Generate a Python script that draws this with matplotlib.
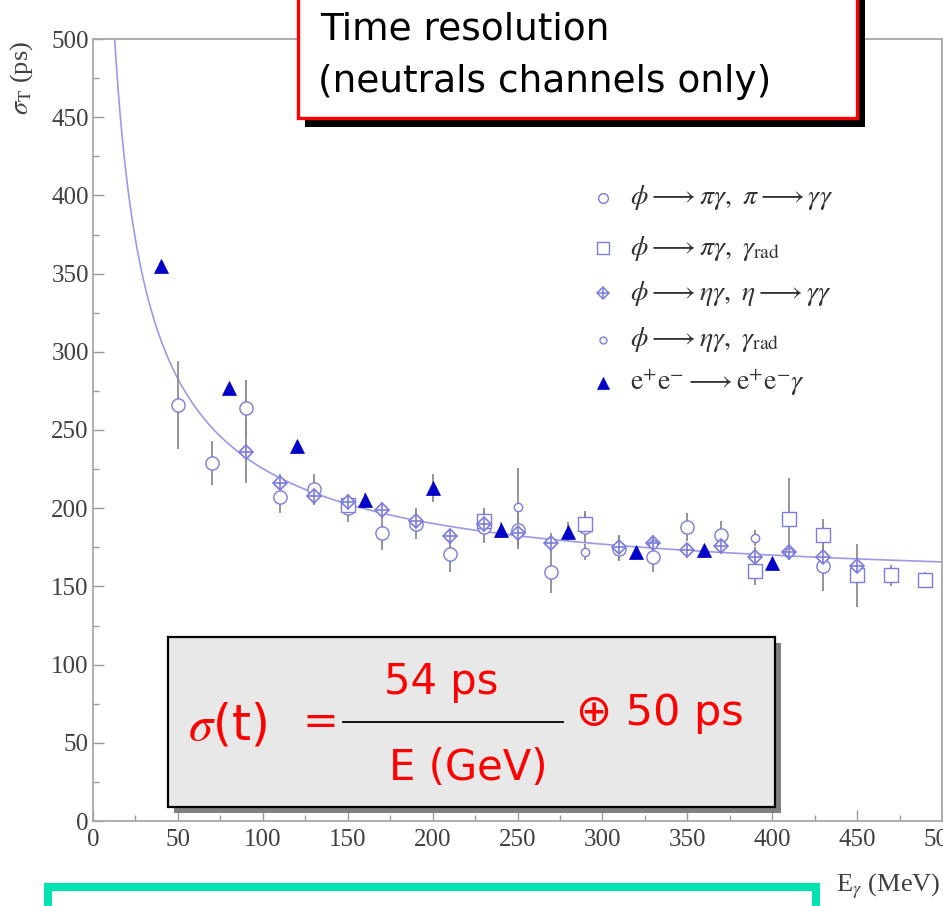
import matplotlib
matplotlib.use("Agg")
import numpy as np
import matplotlib.pyplot as plt
from matplotlib.patches import Rectangle
from matplotlib.lines import Line2D

W, H = 943, 906

plt.rcParams["mathtext.fontset"] = "stix"

# --- sigma_T (ps) vs E_gamma (MeV), one block per channel ---
pi_gg_E = [50, 70, 90, 110, 130, 150, 170, 190, 210, 230, 250, 270, 290, 310, 330, 350, 370, 430]
pi_gg_sig = [266, 229, 264, 207, 212, 200, 184, 190, 171, 188, 186, 159, 188, 174, 169, 188, 183, 163]
pi_gg_err = [28, 14, 18, 10, 10, 9, 11, 10, 12, 10, 12, 13, 10, 8, 10, 9, 9, 16]

pi_rad_E = [150, 230, 290, 390, 410, 430, 450, 470, 490]
pi_rad_sig = [202, 192, 190, 160, 193, 183, 157, 157, 154]
pi_rad_err = [6, 8, 8, 9, 26, 10, 20, 7, 5]

eta_gg_E = [90, 110, 130, 150, 170, 190, 210, 230, 250, 270, 310, 330, 350, 370, 390, 410, 430, 450]
eta_gg_sig = [236, 216, 208, 204, 199, 192, 182, 190, 184, 178, 175, 178, 173, 176, 169, 172, 169, 163]
eta_gg_err = [20, 6, 5, 5, 5, 6, 5, 6, 5, 6, 8, 5, 5, 5, 6, 5, 5, 6]

eta_rad_E = [250, 290, 330, 390, 410]
eta_rad_sig = [201, 172, 177, 181, 172]
eta_rad_err = [25, 5, 5, 5, 5]

ee_E = [40, 80, 120, 160, 200, 240, 280, 320, 360, 400]
ee_sig = [355, 277, 240, 205, 213, 186, 185, 172, 173, 165]
ee_err = [0, 0, 0, 5, 9, 5, 6, 0, 0, 0]

# fit: stochastic term (ps*sqrt(GeV)) added in quadrature to a constant term (ps)
FIT_STOCH = 54.0
FIT_CONST = 147.0

LEGEND_LABELS = [
    r"$\phi \longrightarrow \pi\gamma,\ \pi \longrightarrow \gamma\gamma$",
    r"$\phi \longrightarrow \pi\gamma,\ \gamma_{\rm rad}$",
    r"$\phi \longrightarrow \eta\gamma,\ \eta \longrightarrow \gamma\gamma$",
    r"$\phi \longrightarrow \eta\gamma,\ \gamma_{\rm rad}$",
    r"$\mathrm{e}^{+}\mathrm{e}^{-} \longrightarrow \mathrm{e}^{+}\mathrm{e}^{-}\gamma$",
]

EDGE = "#7c7cdc"
ERR = "#8c8c8c"
TRI = "#0000c8"
AXC = "#a8a8a8"
TXT = "#404040"
SERIF = "Liberation Serif"


def fpos(x, y):
    # pixel position (origin top-left) -> figure fraction
    return x / W, 1 - y / H


fig = plt.figure(figsize=(W / 100, H / 100), dpi=100)
ax = fig.add_axes([93 / W, 1 - 821 / H, 849 / W, 782 / H])
ax.set_xlim(0, 500)
ax.set_ylim(0, 500)

# fit curve
e = np.linspace(10, 500, 400)
fit = np.sqrt((FIT_STOCH / np.sqrt(e / 1000.0)) ** 2 + FIT_CONST ** 2)
ax.plot(e, fit, color="#9a9ae8", lw=1.2, zorder=1)


def series(E, s, err, **kw):
    ax.errorbar(E, s, yerr=err, fmt="none", ecolor=ERR, elinewidth=1.3, zorder=2)
    ax.plot(E, s, ls="none", zorder=3, **kw)


series(pi_gg_E, pi_gg_sig, pi_gg_err, marker="o", ms=9.5, mfc="white", mec=EDGE, mew=1.0)
series(pi_rad_E, pi_rad_sig, pi_rad_err, marker="s", ms=9.5, mfc="white", mec=EDGE, mew=1.0)
series(eta_gg_E, eta_gg_sig, eta_gg_err, marker="D", ms=7.5, mfc="white", mec=EDGE, mew=1.2)
ax.plot(eta_gg_E, eta_gg_sig, ls="none", marker="+", ms=8, mec=EDGE, mew=1.2, zorder=3.5)
series(eta_rad_E, eta_rad_sig, eta_rad_err, marker="o", ms=6, mfc="white", mec=EDGE, mew=1.0)
series(ee_E, ee_sig, ee_err, marker="^", ms=10, mfc=TRI, mec=TRI, mew=0.5)

# axes styling
for sp in ax.spines.values():
    sp.set_color(AXC)
    sp.set_linewidth(1.3)
ax.set_xticks(np.arange(0, 501, 50))
ax.set_yticks(np.arange(0, 501, 50))
ax.set_xticks(np.arange(0, 501, 25), minor=True)
ax.set_yticks(np.arange(0, 501, 25), minor=True)
ax.tick_params(which="both", direction="in", color="#9a9a9a", width=1.0,
               top=False, right=False, labelsize=18, labelcolor=TXT)
ax.tick_params(which="major", length=8)
ax.tick_params(which="minor", length=4.5)
ax.tick_params(axis="x", pad=6)
ax.tick_params(axis="y", pad=3)
for lab in ax.get_xticklabels() + ax.get_yticklabels():
    lab.set_fontfamily(SERIF)

# legend rows
leg_markers = [
    dict(marker="o", ms=7, mfc="white", mec=EDGE, mew=1.0),
    dict(marker="s", ms=9, mfc="white", mec=EDGE, mew=1.0),
    dict(marker="D", ms=6, mfc="white", mec=EDGE, mew=1.1),
    dict(marker="o", ms=5, mfc="white", mec=EDGE, mew=1.0),
    dict(marker="^", ms=8.5, mfc=TRI, mec=TRI, mew=0.5),
]
row_y = [198, 248, 293, 340, 383]
for i, (lab, mk) in enumerate(zip(LEGEND_LABELS, leg_markers)):
    mx, my = fpos(603, row_y[i])
    fig.add_artist(Line2D([mx], [my], transform=fig.transFigure, ls="none", **mk))
    if i == 2:
        fig.add_artist(Line2D([mx], [my], transform=fig.transFigure, ls="none",
                              marker="+", ms=7, mec=EDGE, mew=1.1))
    tx, ty = fpos(630, row_y[i])
    fig.text(tx, ty, lab, fontsize=20, color="#333333", va="center", ha="left")

# axis titles
x0, y0 = fpos(22, 78)
fig.text(x0, y0, r"$\sigma_{\rm T}$ (ps)", rotation=90, fontsize=19, color=TXT,
         family=SERIF, ha="center", va="center")
x0, y0 = fpos(941, 886)
fig.text(x0, y0, r"E$_{\gamma}$ (MeV)", fontsize=19, color=TXT,
         family=SERIF, ha="right", va="center")


def box(x, y, w, h, **kw):
    bx, by = fpos(x, y + h)
    r = Rectangle((bx, by), w / W, h / H, transform=fig.transFigure, **kw)
    fig.add_artist(r)


# title box with drop shadow
box(305, -20, 560, 147, facecolor="black", edgecolor="none", zorder=10)
box(298, -20, 559, 138, facecolor="white", edgecolor="#ff0000", lw=2.4, zorder=11)
tx, ty = fpos(320, 30)
fig.text(tx, ty, "Time resolution", fontsize=27, color="black", va="center", zorder=12)
tx, ty = fpos(318, 82)
fig.text(tx, ty, "(neutrals channels only)", fontsize=27, color="black", va="center", zorder=12)

# formula box with drop shadow
box(174, 643, 607, 170, facecolor="#808080", edgecolor="none", zorder=10)
box(168, 637, 607, 170, facecolor="#e8e8e8", edgecolor="black", lw=1.6, zorder=11)
RED = "#ff0000"
tx, ty = fpos(188, 740)
fig.text(tx, ty, r"$\sigma$(t)", fontsize=35, color=RED, va="baseline", zorder=12)
tx, ty = fpos(320, 722)
fig.text(tx, ty, "=", fontsize=31, color=RED, ha="center", va="center", zorder=12)
lx0, ly = fpos(343, 722)
lx1, _ = fpos(563, 722)
fig.add_artist(Line2D([lx0, lx1], [ly, ly], transform=fig.transFigure, color="black",
                      lw=1.3, zorder=12))
tx, ty = fpos(441, 694)
fig.text(tx, ty, "54 ps", fontsize=30, color=RED, ha="center", va="baseline", zorder=12)
tx, ty = fpos(468, 780)
fig.text(tx, ty, "E (GeV)", fontsize=30, color=RED, ha="center", va="baseline", zorder=12)
tx, ty = fpos(576, 713)
fig.text(tx, ty, "\u2295 50 ps", fontsize=31, color=RED, ha="left", va="center", zorder=12)

# green frame at the bottom
box(48, 887, 768, 60, facecolor="none", edgecolor="#00e3b0", lw=5.8, zorder=10)

fig.savefig("out.png", dpi=100, facecolor="white")
